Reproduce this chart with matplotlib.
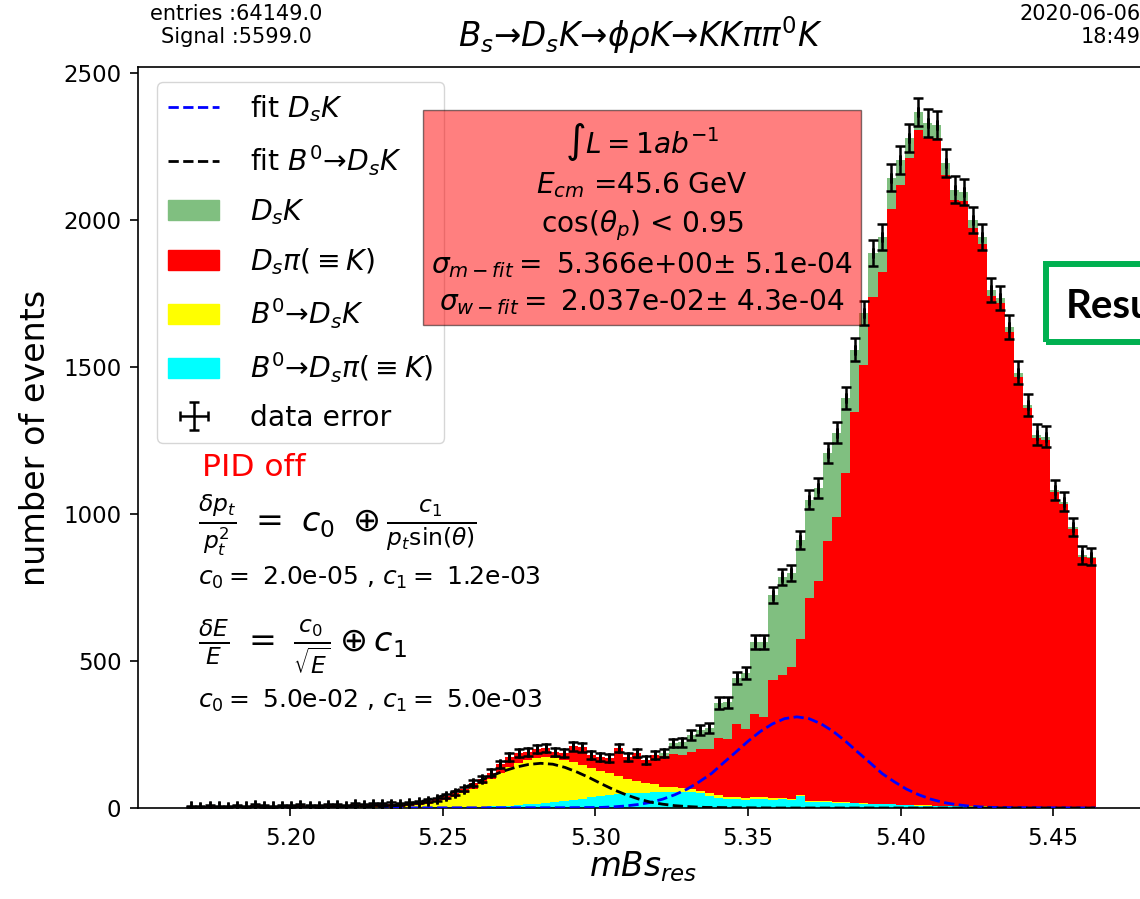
import numpy as np
import matplotlib
matplotlib.use('Agg')
import matplotlib.pyplot as plt
from matplotlib.patches import Patch, Rectangle
from matplotlib.lines import Line2D

W, H = 1140, 899

# histogram binning (mBs_res)
lo, hi, n_bins = 5.166, 5.464, 100

# stacked components, counts per bin
b0_ds_pi = [0] * 25 + [
    1, 1, 2, 2, 3, 3, 4, 5, 6, 7, 8, 10, 12, 14, 17, 20, 24, 28, 32, 36,
    40, 44, 48, 50, 52, 52, 56, 54, 56, 55, 56, 50, 42, 35, 32, 30, 28, 30, 32, 28,
    30, 28, 40, 22, 20, 20, 18, 17, 16, 14, 13, 12, 12, 10, 9, 8, 8, 7, 7, 6,
    6, 5, 5, 4, 4, 4, 3, 3, 3, 2, 2, 2, 2, 1, 1]
b0_ds_k = [0] * 10 + [1] * 8 + [
    2, 2, 3, 3, 4, 5, 7, 9, 13, 18, 26, 36, 48, 62, 76, 94, 112, 130, 143, 152,
    157, 156, 150, 140, 128, 114, 100, 87, 74, 62, 50, 40, 32, 25, 19, 15, 12, 10, 9, 8,
    8, 7, 7, 6, 6, 5, 5, 4, 4, 3, 3, 3, 3, 2, 2, 2, 2, 2] + [1] * 24
ds_pi = [
    6, 5, 7, 6, 5, 8, 6, 9, 7, 6, 7, 6, 8, 7, 6, 9, 8, 7, 11, 9,
    11, 9, 11, 9, 10, 10, 11, 10, 12, 11, 14, 19, 19, 20, 29, 36, 34, 26, 29, 31,
    20, 23, 54, 60, 44, 46, 52, 94, 73, 95, 79, 99, 104, 112, 112, 124, 141, 152, 196, 196,
    250, 235, 284, 274, 401, 417, 447, 533, 688, 750, 884, 971, 1120, 1330, 1492, 1723, 1809, 2025, 2108, 2199,
    2296, 2269, 2269, 2146, 2060, 2058, 1968, 1913, 1737, 1712, 1615, 1462, 1355, 1254, 1249, 1070, 1030, 946, 852, 847]
ds_k = [0] * 52 + [
    10, 38, 45, 58, 65, 70, 118, 125, 155, 190, 245, 255, 290, 335, 320, 335, 335, 315, 300, 285,
    255, 210, 175, 150, 120, 105, 85, 70, 62, 52, 46, 40, 35, 30, 26, 23, 20, 18, 16, 14,
    12, 11, 10, 9, 8, 7, 6, 5]

# data points (total per bin)
data = [
    6, 5, 7, 6, 5, 8, 6, 9, 7, 6, 8, 7, 9, 8, 7, 10, 9, 8, 13, 11,
    14, 12, 15, 14, 17, 20, 25, 30, 40, 50, 65, 85, 100, 120, 148, 174, 187, 190, 200, 204,
    190, 187, 210, 206, 180, 173, 170, 204, 173, 187, 163, 180, 187, 221, 224, 248, 265, 272, 357, 360,
    442, 459, 565, 566, 724, 786, 799, 911, 1048, 1088, 1207, 1276, 1394, 1558, 1683, 1888, 1942, 2143, 2204, 2279,
    2367, 2330, 2323, 2194, 2102, 2095, 2000, 1942, 1762, 1735, 1636, 1480, 1371, 1269, 1262, 1082, 1041, 956, 860, 854]

# fit curves
fit_dsk_m = [5.166, 5.290, 5.302, 5.306, 5.310, 5.314, 5.318, 5.322, 5.326, 5.330, 5.334, 5.338,
             5.342, 5.346, 5.350, 5.354, 5.358, 5.362, 5.366, 5.370, 5.374, 5.378, 5.382,
             5.386, 5.390, 5.394, 5.398, 5.402, 5.406, 5.410, 5.414, 5.418, 5.422, 5.426,
             5.430, 5.440, 5.464]
fit_dsk_v = [0, 1, 2, 4, 7, 12, 19, 30, 45, 64, 89, 117,
             154, 190, 227, 260, 286, 304, 310, 304, 286, 260, 227,
             190, 154, 117, 89, 64, 45, 30, 19, 12, 7, 4,
             2, 1, 0]
fit_b0_m = [5.166, 5.220, 5.226, 5.230, 5.234, 5.238, 5.242, 5.246, 5.250, 5.254, 5.258, 5.262,
            5.266, 5.270, 5.274, 5.278, 5.282, 5.286, 5.290, 5.294, 5.298, 5.302, 5.306,
            5.310, 5.314, 5.318, 5.322, 5.326, 5.330, 5.336, 5.345, 5.360, 5.464]
fit_b0_v = [0, 1, 3, 5, 8, 13, 20, 30, 42, 57, 74, 92,
            110, 126, 139, 148, 152, 149, 138, 122, 103, 82, 62,
            45, 31, 20, 13, 8, 5, 2, 1, 0, 0]

edges = np.linspace(lo, hi, n_bins + 1)
centers = 0.5 * (edges[1:] + edges[:-1])

plt.rcParams['font.family'] = ['DejaVu Sans']


def fx(x):
    return x / W


def fy(y):
    return 1 - y / H


fig = plt.figure(figsize=(W / 100, H / 100), dpi=100)
ax = fig.add_axes([fx(138), fy(808), 1010 / W, (808 - 67) / H])

colors = ['#00ffff', '#ffff00', '#ff0000', '#80bf80']
ax.hist([centers] * 4, bins=edges, weights=[b0_ds_pi, b0_ds_k, ds_pi, ds_k],
        stacked=True, histtype='stepfilled', color=colors, linewidth=0)

ax.plot(fit_dsk_m, fit_dsk_v, '--', color='blue', lw=2, zorder=3)
ax.plot(fit_b0_m, fit_b0_v, '--', color='black', lw=2, zorder=3)

data = np.array(data, dtype=float)
err = ax.errorbar(centers, data, yerr=np.sqrt(data), xerr=0, fmt='none',
                  ecolor='black', elinewidth=1.8, capsize=3.5, capthick=1.8, zorder=4)

ax.set_xlim(5.15, 5.15 + 1010 / 3050)
ax.set_ylim(0, 2520)
ax.set_xticks([5.20, 5.25, 5.30, 5.35, 5.40, 5.45])
ax.set_yticks([0, 500, 1000, 1500, 2000, 2500])
ax.tick_params(labelsize=16.5, length=6, width=1.2, pad=6)
ax.tick_params(axis='x', pad=8)
for s in ax.spines.values():
    s.set_linewidth(1.2)
ax.set_xlabel(r'$mBs_{res}$', fontsize=23.5, labelpad=-1)
ax.set_ylabel('number of events', fontsize=24, labelpad=8)

handles = [
    Line2D([], [], ls='--', color='blue', lw=2),
    Line2D([], [], ls='--', color='black', lw=2),
    Patch(color=colors[3]),
    Patch(color=colors[2]),
    Patch(color=colors[1]),
    Patch(color=colors[0]),
    err,
]
labels = [r'fit $D_sK$', r'fit $B^0$→$D_sK$', r'$D_sK$', r'$D_s\pi(\equiv K)$',
          r'$B^0$→$D_sK$', r'$B^0$→$D_s\pi(\equiv K)$', 'data error']
ax.legend(handles, labels, loc='upper left', fontsize=20.3, borderaxespad=0,
          bbox_to_anchor=(fx(157), fy(82)), bbox_transform=fig.transFigure,
          labelspacing=0.68, handlelength=1.8, handletextpad=1.1)

box_txt = '\n'.join([
    r'$\int L = 1ab^{-1}$',
    r'$E_{cm}$ =45.6 GeV',
    r'cos($\theta_p$) < 0.95',
    r'$\sigma_{m-fit} =$ 5.366e+00$\pm$ 5.1e-04',
    r'$\sigma_{w-fit} =$ 2.037e-02$\pm$ 4.3e-04',
])
fig.text(fx(642), fy(219), box_txt, ha='center', va='center', multialignment='center',
         fontsize=20.2, linespacing=1.32, zorder=3,
         bbox=dict(boxstyle='square,pad=0.3', facecolor='red', edgecolor='black', alpha=0.5))

fig.text(fx(202), fy(476), 'PID off', color='red', fontsize=22.5, va='baseline')
fig.text(fx(198), fy(525), r'$\frac{\delta p_t}{p_t^2}\ =\ c_0\ \oplus \frac{c_1}{p_t \sin(\theta)}$',
         fontsize=24, va='center')
fig.text(fx(198), fy(585), r'$c_0 =$ 2.0e-05 , $c_1 =$ 1.2e-03', fontsize=18, va='baseline')
fig.text(fx(198), fy(647), r'$\frac{\delta E}{E}\ =\ \frac{c_0}{\sqrt{E}} \oplus c_1$',
         fontsize=24, va='center')
fig.text(fx(198), fy(708), r'$c_0 =$ 5.0e-02 , $c_1 =$ 5.0e-03', fontsize=18, va='baseline')

fig.text(fx(640), fy(47), r'$B_s$→$D_sK$→$\phi\rho K$→$KK\pi\pi^0K$', fontsize=23.5,
         ha='center', va='baseline')
fig.text(fx(236), fy(4), 'entries :64149.0\nSignal :5599.0', fontsize=15, va='top',
         ha='center', multialignment='center')
fig.text(fx(1141), fy(4), '2020-06-06\n18:49', fontsize=15, va='top', ha='right',
         multialignment='right')

# green "Results" box from the slide, cut at the right edge
fig.patches.append(Rectangle((fx(1046), fy(342)), 200 / W, 78 / H, transform=fig.transFigure,
                             fill=False, edgecolor='#00b050', linewidth=4.3))
fig.text(fx(1066), fy(318), 'Results', fontsize=29, fontweight='bold', family=['Lato', 'DejaVu Sans'],
         va='baseline')

fig.savefig('out.png', dpi=100)
